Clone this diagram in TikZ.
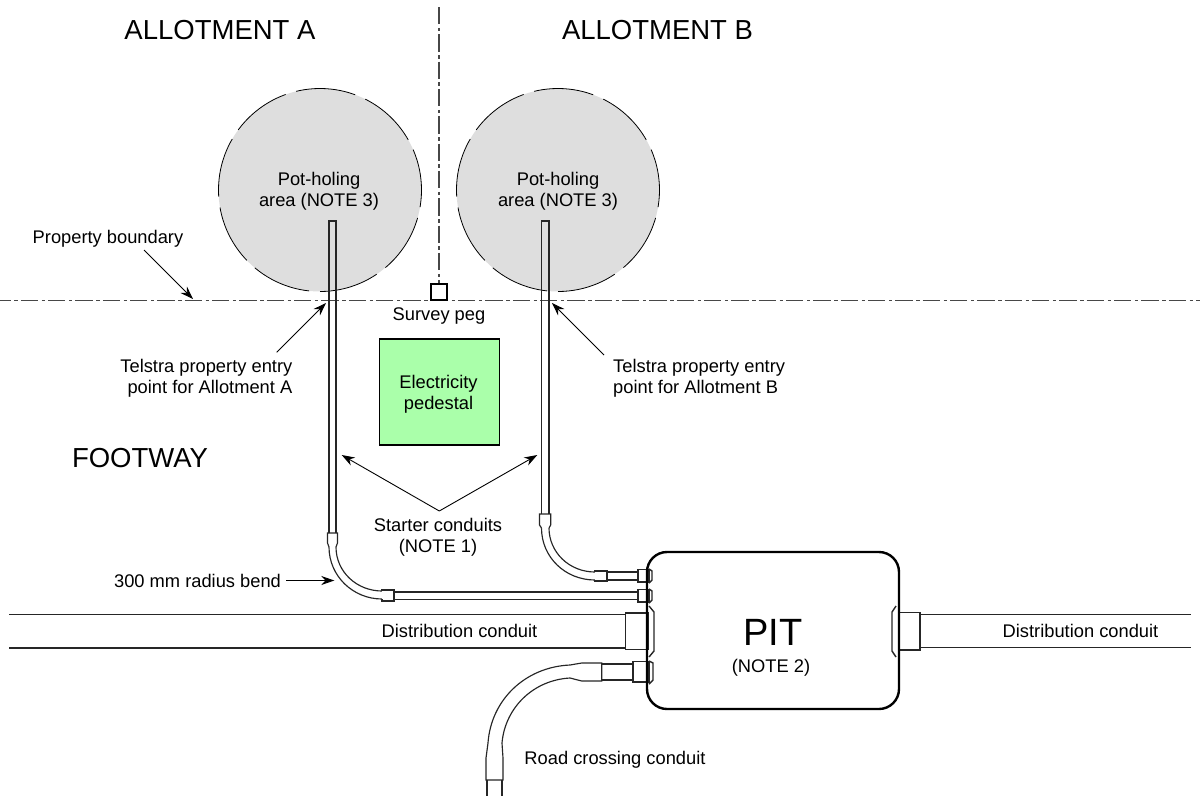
\documentclass[tikz,border=0pt]{standalone}
\usepackage{fontspec}
\setmainfont{Liberation Sans}
\usetikzlibrary{arrows.meta}
\definecolor{ped}{RGB}{170,255,170}
\tikzset{
 x=1pt,y=-1pt,
 lbl/.style={font=\fontsize{18.3pt}{20.8pt}\selectfont,align=center,inner sep=0},
 big/.style={font=\fontsize{27.5pt}{30pt}\selectfont,inner sep=0},
 pipe/.style={draw=black!85,line width=1.15pt,fill=white},
 pipeline/.style={pipe,fill=none},
 flange/.style={pipe,line width=1.4pt,fill=none},
 cl/.style={line width=1.5pt,black!72,dash pattern=on 17.33pt off 3.5pt on 3.5pt off 3pt},
 circ/.style={circle,minimum size=203pt,inner sep=0,fill=black!13,draw=black,line width=.8pt,dash pattern=on 60pt off 11pt,dash phase=18.5pt},
 lead/.style={line width=0.9pt,-{Stealth[length=13pt,width=9pt]}},
 pitbox/.style={draw=black,line width=2.4pt,rounded corners=20pt,minimum width=252pt,minimum height=157pt,inner sep=0},
 pedbox/.style={draw=black,line width=1.4pt,fill=ped,minimum width=120pt,minimum height=106pt,inner sep=0},
 pegbox/.style={draw=black,line width=1.7pt,fill=white,minimum size=16pt,inner sep=0},
}
\begin{document}
\begin{tikzpicture}
\useasboundingbox (0,0) rectangle (1200,796);
\node[circ] (ca) at (320,190) {};
\node[circ] (cb) at (558,190) {};
\coordinate (vt) at (439,7); \coordinate (vb) at (439,284);
\coordinate (hl) at (0,300.5); \coordinate (hr) at (1200,300.5);
\draw[cl] (vt) -- (vb);
\draw[cl,dash phase=6.5pt] (hl) -- (hr);
\node[pegbox] (peg) at (439,292) {};
\node[pedbox] (ped) at (439.3,392) {};
\node[lbl] (pedt) at (438.5,394) {Electricity\\pedestal};
% starter conduits
\draw[pipeline] (329,533) -- (329,221) -- (336,221) -- (336,533);
\draw[pipeline] (541.5,514) -- (541.5,221) -- (549,221) -- (549,514);
% bend A
\draw[pipeline] (329,547) .. controls (329,576) and (353,599) .. (382,599);
\draw[pipeline] (336,547) .. controls (336,572) and (357,591) .. (382,591);
\draw[pipe] (329,547) -- (327.5,543) -- (327.5,533) -- (337.5,533) -- (337.5,543) -- (336,547);
\draw[pipe] (382,591) -- (382,590) -- (394,590) -- (394,601) -- (382,601) -- (382,599);
\draw[pipeline] (394,592) -- (638,592) (394,599.5) -- (638,599.5);
% bend B
\draw[pipeline] (541.5,528) .. controls (541.5,557) and (565,580) .. (595,580);
\draw[pipeline] (549,528) .. controls (549,552) and (569,572) .. (595,572);
\draw[pipe] (541.5,528) -- (539.5,525) -- (539.5,514) -- (550.7,514) -- (550.7,525) -- (549,528);
\draw[pipe] (595,572) -- (595,571) -- (607,571) -- (607,581) -- (595,581) -- (595,580);
\draw[pipeline] (607,572) -- (638,572) (607,580) -- (638,580);
% distribution conduits
\draw[pipeline] (9,614.5) -- (625,614.5) (9,648) -- (625,648);
\draw[pipeline] (920,614.5) -- (1191,614.5) (920,647.5) -- (1191,647.5);
% road crossing
\draw[pipeline] (570,665) .. controls (525,667) and (491,700) .. (488,743);
\draw[pipeline] (570,678) .. controls (533,680) and (505,708) .. (502,743);
\draw[pipe] (570,665) -- (581.7,663) -- (601.7,663) -- (601.7,681) -- (581.7,681) -- (570,678);
\draw[pipe] (488,743) -- (486,758) -- (486,780) -- (503,780) -- (503,758) -- (502,743);
\draw[pipeline] (487,780) -- (487,796) (502,780) -- (502,796);
\draw[pipeline] (602,664) -- (633,664) (602,680) -- (633,680);
% fittings
\draw[pipe] (638,569.5) rectangle (649,582);
\draw[pipe] (638,589.5) rectangle (649,602);
\draw[pipe] (633,661.5) rectangle (649,682);
\draw[pipe] (625.5,613) rectangle (648,649.5);
\draw[pipe] (899,612.5) rectangle (920,650);
\draw[flange] (649,569) -- (652,571) -- (652,580) -- (649,583);
\draw[flange] (649,589) -- (652,591) -- (652,600) -- (649,603);
\draw[flange] (649,661) -- (653,663) -- (653,680) -- (649,684);
\draw[flange] (649,606) -- (654,612) -- (654,651) -- (649,657);
\draw[flange] (896,606) -- (892,612) -- (892,651) -- (896,657);
% pit
\node[pitbox] (pit) at (773,630.5) {};
\node[inner sep=0,font=\fontsize{38pt}{40pt}\selectfont] (pitt) at (773,632) {PIT};
\node[lbl] (pitn) at (771,668) {(NOTE 2)};
% text
\node[big] (la) at (220,30) {ALLOTMENT A};
\node[big] (lb) at (657.5,30) {ALLOTMENT B};
\node[big] (fw) at (140,458) {FOOTWAY};
\node[lbl] (ta) at (319,191.6) {Pot-holing\\area (NOTE 3)};
\node[lbl] (tb) at (558,191.6) {Pot-holing\\area (NOTE 3)};
\node[lbl] (pb) at (108,239) {Property boundary};
\node[lbl] (sp) at (439,316) {Survey peg};
\node[lbl,align=right,anchor=east] (ea) at (292.5,378) {Telstra property entry\\point for Allotment A};
\node[lbl,align=left,anchor=west] (eb) at (613,378) {Telstra property entry\\point for Allotment B};
\node[lbl] (sc) at (438,537.5) {Starter conduits\\(NOTE 1)};
\node[lbl] (rb) at (197.5,581) {300 mm radius bend};
\node[lbl] (d1) at (459.5,631) {Distribution conduit};
\node[lbl] (d2) at (1080.5,631) {Distribution conduit};
\node[lbl] (rc) at (615,760) {Road crossing conduit};
% leaders
\coordinate (s1) at (144,250); \coordinate (a1) at (193,299); \draw[lead] (s1) -- (a1);
\coordinate (s2) at (276.7,352.3); \coordinate (a2) at (326,303); \draw[lead] (s2) -- (a2);
\coordinate (s3) at (604,355); \coordinate (a3) at (552,303); \draw[lead] (s3) -- (a3);
\coordinate (s4) at (439.3,511); \coordinate (a4) at (341.7,455); \draw[lead] (s4) -- (a4);
\coordinate (a5) at (537.3,455); \draw[lead] (s4) -- (a5);
\coordinate (s6) at (286,580.5); \coordinate (a6) at (334.3,580.5); \draw[lead] (s6) -- (a6);
\end{tikzpicture}
\end{document}
